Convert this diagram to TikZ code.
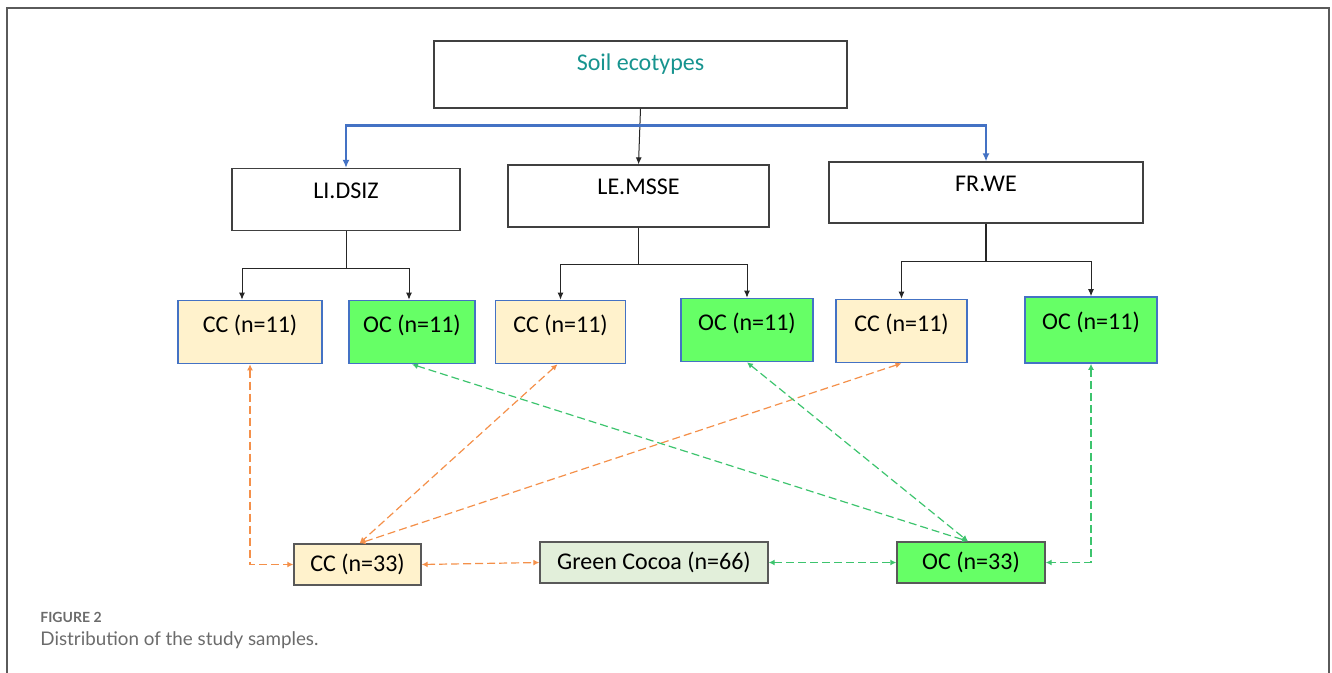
\documentclass[tikz,border=0pt]{standalone}
\usepackage{fontspec}
\setmainfont{Carlito}
\newfontfamily\capfont{Lato}
\usetikzlibrary{arrows.meta}

\definecolor{boxblue}{HTML}{4472C4}
\definecolor{creamfill}{HTML}{FFF2CC}
\definecolor{ocfill}{HTML}{66FF66}
\definecolor{cocoafill}{HTML}{E2EFDA}
\definecolor{linkorange}{HTML}{F4904A}
\definecolor{linkgreen}{HTML}{3DC46E}
\definecolor{titleteal}{HTML}{17948F}
\definecolor{capgray}{HTML}{6B6B6B}
\definecolor{framegray}{HTML}{5A5A5A}

\begin{document}
\begin{tikzpicture}[x=0.5pt,y=-0.5pt,
    font=\fontsize{12}{14}\selectfont,
    topbox/.style={draw=black!75,line width=0.6pt,fill=white,inner ysep=0pt,text height=15pt,text depth=16pt},
    ccbox/.style={draw=boxblue,line width=0.8pt,fill=creamfill,inner ysep=0pt,text height=16pt,text depth=15.5pt},
    ocbox/.style={ccbox,fill=ocfill},
    sumbox/.style={draw=black!65,line width=0.7pt,minimum height=20.5pt},
    caption/.style={text=capgray,anchor=west,inner sep=0pt},
    treeline/.style={black!85,line width=0.5pt,-{Latex[length=3.5pt,width=3pt]}},
    blueline/.style={boxblue,line width=1.1pt,-{Latex[length=4pt,width=3.5pt]}},
    orangelink/.style={linkorange,line width=0.6pt,dash pattern=on 4pt off 2pt,{Latex[length=3pt,width=3pt]}-{Latex[length=3pt,width=3pt]}},
    greenlink/.style={orangelink,linkgreen}]

    \useasboundingbox (0,0) rectangle (1332,673);

    % frame
    \draw[framegray,line width=0.9pt] (7,673) -- (7,8) -- (1329,8) -- (1329,673);

    % top box
    \node[topbox,text depth=18.5pt,minimum width=206.5pt,text=titleteal] (soil) at (640.5,74.5) {Soil ecotypes};

    % ecotypes
    \node[topbox,minimum width=114pt] (lidsiz) at (346,199.5) {LI.DSIZ};
    \node[topbox,minimum width=130.5pt] (lemsse) at (638.5,196) {LE.MSSE};
    \node[topbox,minimum width=157pt,text depth=15.5pt] (frwe) at (986,192.5) {FR.WE};

    % samples per ecotype
    \node[ccbox,minimum width=72pt] (cc1) at (250,332) {CC (n=11)};
    \node[ocbox,minimum width=63pt] (oc1) at (412,332) {OC (n=11)};
    \node[ccbox,minimum width=65pt] (cc2) at (560.5,332) {CC (n=11)};
    \node[ocbox,minimum width=66pt] (oc2) at (747,330) {OC (n=11)};
    \node[ccbox,minimum width=65.5pt] (cc3) at (901.5,331) {CC (n=11)};
    \node[ocbox,minimum width=66pt,text depth=17pt] (oc3) at (1091,330) {OC (n=11)};

    % totals
    \node[sumbox,fill=creamfill,minimum width=63.5pt] (cc33) at (357.5,564.5) {CC (n=33)};
    \node[sumbox,fill=cocoafill,minimum width=114pt] (green) at (654,562.5) {Green Cocoa (n=66)};
    \node[sumbox,fill=ocfill,minimum width=74pt] (oc33) at (971,562.5) {OC (n=33)};

    % caption
    \node[caption,font=\capfont\bfseries\fontsize{7}{8}\selectfont] (fig) at (40,617) {FIGURE 2};
    \node[caption,font=\capfont\fontsize{9.4}{11}\selectfont] (cap) at (40,640) {Distribution of the study samples.};

    % soil -> ecotypes
    \coordinate (bsplit) at ([yshift=-8.5pt]soil.south);
    \draw[treeline] (soil.south) -- (lemsse.north);
    \draw[blueline] (bsplit) -| (lidsiz.north);
    \draw[blueline] (bsplit) -| (frwe.north);

    % ecotypes -> samples
    \coordinate (lsplit) at ([yshift=-18.5pt]lidsiz.south);
    \coordinate (msplit) at ([yshift=-18.5pt]lemsse.south);
    \coordinate (fsplit) at ([yshift=-19pt]frwe.south);
    \draw[black!85,line width=0.5pt] (lidsiz.south) -- (lsplit);
    \draw[black!85,line width=0.5pt] (lemsse.south) -- (msplit);
    \draw[black!85,line width=0.7pt] (frwe.south) -- (fsplit);
    \draw[treeline] (lsplit) -| ([xshift=-4pt]cc1.north);
    \draw[treeline] (lsplit) -| ([xshift=-1.5pt]oc1.north);
    \draw[treeline] (msplit) -| (cc2.north);
    \draw[treeline] (msplit) -| (oc2.north);
    \draw[treeline] (fsplit) -| (cc3.north);
    \draw[treeline] (fsplit) -| (oc3.north);

    % conventional cocoa links
    \draw[orangelink] (cc1.south) |- (cc33.west);
    \draw[orangelink] ([xshift=-1.5pt]cc2.south) -- ([xshift=1pt]cc33.north);
    \draw[orangelink] (cc3.south) -- ([xshift=1pt]cc33.north);
    \draw[orangelink] (cc33.east) -- (green.west);

    % organic cocoa links
    \draw[greenlink] (oc1.south) -- ([xshift=-1.5pt]oc33.north);
    \draw[greenlink] (oc2.south) -- ([xshift=-1.5pt]oc33.north);
    \draw[greenlink] (oc3.south) |- (oc33.east);
    \draw[greenlink] (green.east) -- (oc33.west);
\end{tikzpicture}
\end{document}
